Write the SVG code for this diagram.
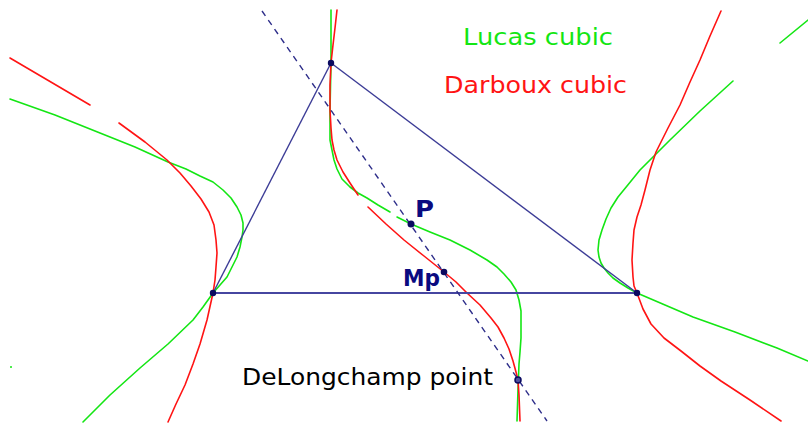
<svg xmlns="http://www.w3.org/2000/svg" width="808" height="423" viewBox="0 0 808 423">
<style>
.bg{fill:#ffffff}
.luc{fill:none;stroke:#14e614;stroke-width:1.6;stroke-linejoin:round;stroke-linecap:round}
.dar{fill:none;stroke:#ff1414;stroke-width:1.6;stroke-linejoin:round;stroke-linecap:round}
.side{fill:none;stroke:#3c3c96;stroke-width:1.4}
.base{fill:none;stroke:#4646a0;stroke-width:2}
.dash{fill:none;stroke:#2e2e8a;stroke-width:1.4;stroke-dasharray:6 5}
.pt{fill:#0a0a60}
.lbl{font-family:"DejaVu Sans","Liberation Sans",sans-serif;font-size:23px}
.plbl{font-family:"DejaVu Sans","Liberation Sans",sans-serif;font-size:23px;font-weight:bold;fill:#0a0a80}
</style>
<rect class="bg" x="0" y="0" width="808" height="423"/>
<g id="curves">
  <g id="lucas-cubic">
    <path class="luc" d="M780,43 L808,20"/>
    <path class="luc" d="M733,81 L700,111 L670,140 L655,155 L640,170 L627,186 L618,197 L611,208 L606,219 L602,230 L599,240 L598,250 L599,257 L601,263 L604,268 L608,273 L613,278 L620,283 L628,288 L637,293 L665,305 L693,317 L735,332 L777,348 L808,361"/>
    <path class="luc" d="M10,99 L55,115 L100,133 L135,147 L168,162 L186,169 L200,176 L213,182 L223,190 L231,198 L237,207 L241,215 L243,223 L243,230 L242,237 L240,247 L237,257 L232,267 L227,277 L220,285 L213,293 L203,307 L193,320 L168,344 L140,368 L110,395 L83,422"/>
    <path class="luc" d="M331,10 L331,63 L330,110 L330,140 L332,150 L334,160 L337,169 L342,179 L350,187 L358,193 L367,198 L378,205 L390,212"/>
    <path class="luc" d="M397,217 L411,224 L430,232 L450,240 L470,250 L487,260 L497,267 L504,274 L511,282 L516,290 L519,300 L521,311 L521,325 L521,338 L520,352 L519,364 L518,390 L517,421"/>
    <circle cx="11" cy="367" r="1" fill="#14e614"/>
  </g>
  <g id="darboux-cubic">
    <path class="dar" d="M10,58 L90,105"/>
    <path class="dar" d="M119,123 L145,142 L167,160 L180,173 L191,186 L201,199 L209,212 L214,225 L216,240 L217,253 L216,267 L215,280 L213,293 L207,320 L200,344 L193,364 L185,385 L176,404 L168,422"/>
    <path class="dar" d="M337,10 L335,28 L333,45 L331,63 L330,85 L330,110 L331,128 L332,140 L334,150 L337,160 L343,172 L350,183 L358,195"/>
    <path class="dar" d="M368,207 L386,224 L404,240 L424,256 L444,272 L456,282 L467,293 L480,305 L491,318 L498,327 L504,338 L509,349 L513,361 L516,372 L518,380 L519,395 L520,421"/>
    <path class="dar" d="M721,11 L710,36 L700,60 L690,82 L680,105 L668,128 L656,152 L650,170 L645,190 L641,205 L637,217 L634,230 L633,243 L632,260 L633,277 L634,286 L637,293 L643,309 L651,324 L664,338 L681,351 L700,366 L721,381 L750,400 L781,421"/>
  </g>
</g>
<g id="connectors">
  <line class="side" x1="331" y1="63" x2="213" y2="293"/>
  <line class="side" x1="331" y1="63" x2="637" y2="293"/>
  <line class="base" x1="213" y1="293" x2="637" y2="293"/>
  <line class="dash" x1="262" y1="11" x2="547" y2="421"/>
</g>
<g id="node-A"><circle class="pt" cx="331" cy="63" r="3.2"/></g>
<g id="node-B"><circle class="pt" cx="213" cy="293" r="3.2"/></g>
<g id="node-C"><circle class="pt" cx="637" cy="293" r="3.2"/></g>
<g id="node-P">
  <circle class="pt" cx="411" cy="224" r="3.5"/>
  <text class="plbl" x="415" y="217" textLength="19" lengthAdjust="spacingAndGlyphs">P</text>
</g>
<g id="node-Mp">
  <circle class="pt" cx="444" cy="272" r="3.3"/>
  <text class="plbl" x="403" y="286" textLength="37" lengthAdjust="spacingAndGlyphs">Mp</text>
</g>
<g id="node-DeLongchamp">
  <circle cx="518" cy="380" r="3" fill="#5050a0" stroke="#0a0a60" stroke-width="1.5"/>
  <text class="lbl" x="242" y="385" fill="#000000" textLength="251" lengthAdjust="spacingAndGlyphs">DeLongchamp point</text>
</g>
<g id="legend">
  <text class="lbl" x="463" y="45" fill="#14e614" textLength="150" lengthAdjust="spacingAndGlyphs">Lucas cubic</text>
  <text class="lbl" x="444" y="93" fill="#ff1414" textLength="183" lengthAdjust="spacingAndGlyphs">Darboux cubic</text>
</g>
</svg>
